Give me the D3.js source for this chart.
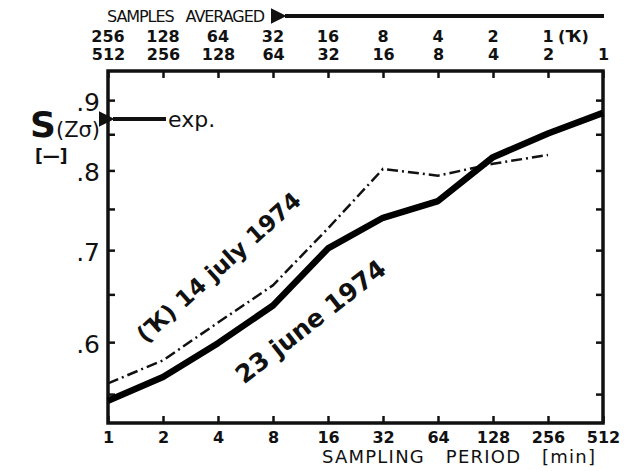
<!DOCTYPE html>
<html lang="en">
<head>
  <meta charset="UTF-8">
  <title>Sampling period</title>
  <script src="https://cdn.jsdelivr.net/npm/d3@7/dist/d3.min.js"></script>
  <style>
    body { margin: 0; background: #fff; }
    text { font-family: "DejaVu Sans", sans-serif; font-weight: bold; fill: #111; }
  </style>
</head>
<body>
  <svg class="chart"></svg>
</body>
</html>
<script>
  var svgWidth = 625;
  var svgHeight = 471;

  // sampling period [min]
  var periods = [1, 2, 4, 8, 16, 32, 64, 128, 256, 512];
  // 23 june 1974 (solid)
  var june23 = [0.544, 0.566, 0.599, 0.638, 0.702, 0.739, 0.760, 0.818, 0.851, 0.881];
  // 14 july 1974 (dash-dot), no value at 512
  var july14 = [0.560, 0.582, 0.620, 0.660, 0.726, 0.802, 0.793, 0.809, 0.821];
  // samples averaged, two rows above the top axis
  var samplesK = ['256', '128', '64', '32', '16', '8', '4', '2', '1'];
  var samples = ['512', '256', '128', '64', '32', '16', '8', '4', '2', '1'];
  var yTicks = [0.55, 0.6, 0.65, 0.7, 0.75, 0.8, 0.85, 0.9];
  var yLabels = [0.6, 0.7, 0.8, 0.9];
  var expValue = 0.872;

  var margin = {top: 71, right: 22, bottom: 48, left: 108};
  var chartWidth = svgWidth - margin.left - margin.right;
  var chartHeight = svgHeight - margin.top - margin.bottom;

  var xScale = d3.scaleLog().base(2)
  .domain([1, 512])
  .range([0, chartWidth]);

  var yScale = d3.scaleLog()
  .domain([0.524, 0.945])
  .range([chartHeight, 0]);

  var svg = d3.select('.chart')
  .attr('width', svgWidth)
  .attr('height', svgHeight);

  var chart = svg.append('g')
  .attr('transform', 'translate(' + margin.left + ',' + margin.top + ')');

  // ticks pointing inward on all four sides
  var xBottom = d3.axisBottom(xScale).tickValues(periods).tickSize(-7).tickPadding(9)
  .tickFormat(function(d) { return d; });
  var xTop = d3.axisTop(xScale).tickValues(periods).tickSize(-7).tickPadding(11)
  .tickFormat(function(d, i) { return samples[i]; });
  var yLeft = d3.axisLeft(yScale).tickValues(yTicks).tickSize(-7).tickPadding(8)
  .tickFormat(function(d) { return yLabels.indexOf(d) >= 0 ? d3.format('.1f')(d).replace('0.', '.') : ''; });
  var yRight = d3.axisRight(yScale).tickValues(yTicks).tickSize(-7).tickFormat('');

  var gb = chart.append('g').attr('transform', 'translate(0,' + chartHeight + ')').call(xBottom);
  var gt = chart.append('g').call(xTop);
  var gl = chart.append('g').call(yLeft);
  var gr = chart.append('g').attr('transform', 'translate(' + chartWidth + ',0)').call(yRight);

  [gb, gt, gl, gr].forEach(function(g) {
    g.select('.domain').remove();
    g.selectAll('line').attr('stroke', '#111').attr('stroke-width', 2.5);
  });
  gb.selectAll('text').style('font-size', '16px');
  gt.selectAll('text').style('font-size', '16px');
  gl.selectAll('text').style('font-size', '25px').style('font-weight', 'normal').attr('dy', '0.4em');

  // first label row (K)
  chart.append('g').selectAll('text')
  .data(samplesK)
  .enter()
  .append('text')
  .attr('x', function(d, i) { return xScale(periods[i]); })
  .attr('y', -29)
  .attr('text-anchor', 'middle')
  .style('font-size', '16px')
  .text(function(d) { return d; });
  chart.append('text')
  .attr('x', xScale(256) + 10)
  .attr('y', -29)
  .style('font-size', '16px')
  .text('(Ҡ)');

  // frame
  chart.append('rect')
  .attr('width', chartWidth)
  .attr('height', chartHeight)
  .attr('fill', 'none')
  .attr('stroke', '#111')
  .attr('stroke-width', 3.5);

  var line = d3.line()
  .x(function(d, i) { return xScale(periods[i]); })
  .y(function(d) { return yScale(d); });

  chart.append('path')
  .datum(july14)
  .attr('d', line)
  .attr('fill', 'none')
  .attr('stroke', '#111')
  .attr('stroke-width', 2.5)
  .attr('stroke-dasharray', '11,4,2,4');

  chart.append('path')
  .datum(june23)
  .attr('d', line)
  .attr('fill', 'none')
  .attr('stroke', '#000')
  .attr('stroke-width', 6.5)
  .attr('stroke-linejoin', 'round');

  // curve labels
  chart.append('text')
  .attr('transform', 'translate(' + (xScale(4) + 6) + ',' + (yScale(0.660) - 12) + ') rotate(-42)')
  .attr('text-anchor', 'middle')
  .style('font-size', '23px')
  .text('(Ҡ) 14 july 1974');
  chart.append('text')
  .attr('transform', 'translate(' + (xScale(16) - 12) + ',' + (yScale(0.650) + 34) + ') rotate(-38)')
  .attr('text-anchor', 'middle')
  .style('font-size', '25px')
  .text('23 june 1974');

  // exp. arrow
  var ey = yScale(expValue);
  svg.append('defs').append('marker')
  .attr('id', 'head')
  .attr('viewBox', '0 0 10 10')
  .attr('refX', 1).attr('refY', 5)
  .attr('markerWidth', 4).attr('markerHeight', 4)
  .attr('orient', 'auto-start-reverse')
  .append('path').attr('d', 'M0,5 L10,0 L10,10 Z').attr('fill', '#111');
  chart.append('line')
  .attr('x1', 5).attr('x2', 58).attr('y1', ey).attr('y2', ey)
  .attr('stroke', '#111').attr('stroke-width', 4)
  .attr('marker-start', 'url(#head)');
  chart.append('text')
  .attr('x', 60).attr('y', ey).attr('dy', '0.35em')
  .style('font-size', '22px').style('font-weight', 'normal')
  .text('exp.');

  // y title
  var yt = svg.append('text').attr('x', 30).attr('y', 137);
  yt.append('tspan').style('font-size', '36px').text('S');
  yt.append('tspan').style('font-size', '21px').style('font-weight', 'normal').text('(Zσ)');
  svg.append('text').attr('x', 35).attr('y', 162).style('font-size', '17px').text('[—]');

  // top title with arrow
  svg.append('text').attr('x', 107).attr('y', 22).attr('xml:space', 'preserve')
  .attr('textLength', 158)
  .style('font-size', '16px').style('font-weight', 'normal')
  .text('SAMPLES   AVERAGED');
  svg.append('line')
  .attr('x1', 285).attr('x2', 604).attr('y1', 16).attr('y2', 16)
  .attr('stroke', '#111').attr('stroke-width', 4)
  .attr('marker-start', 'url(#head)');

  // bottom title
  svg.append('text').attr('x', 322).attr('y', 463).attr('xml:space', 'preserve')
  .attr('textLength', 273)
  .style('font-size', '18px').style('font-weight', 'normal')
  .text('SAMPLING   PERIOD   [min]');
</script>
